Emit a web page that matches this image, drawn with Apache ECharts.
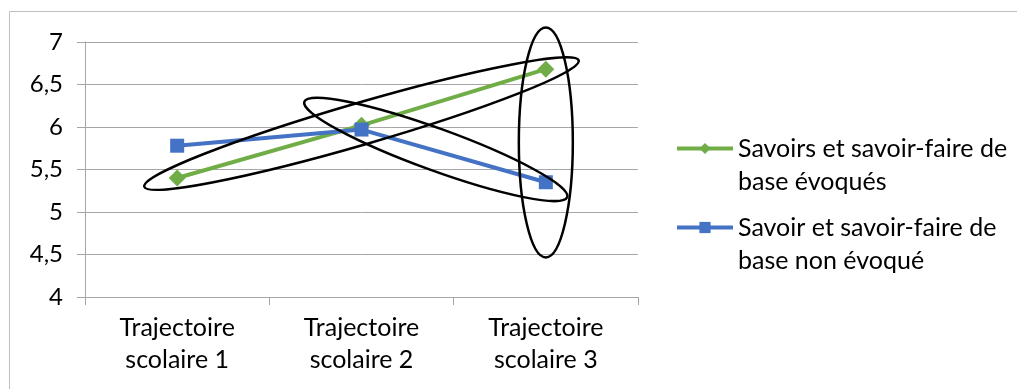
<!DOCTYPE html>
<html>
<head>
<meta charset="utf-8">
<script src="https://cdn.jsdelivr.net/npm/echarts@6/dist/echarts.min.js"></script>
<style>
  html, body { margin: 0; padding: 0; background: #fff; }
  #chart { width: 1017px; height: 389px; }
</style>
</head>
<body>
<div id="chart"></div>
<script>
var categories = ['Trajectoire\nscolaire 1', 'Trajectoire\nscolaire 2', 'Trajectoire\nscolaire 3'];
var seriesNames = ['Savoirs et savoir-faire de\nbase évoqués', 'Savoir et savoir-faire de\nbase non évoqué'];
var evoques = [5.40, 6.02, 6.68];
var nonEvoques = [5.78, 5.97, 5.35];

var font = 'Lato';
var gridColor = '#A6A6A6';
var lh = 33;

var legendText = {
    fontFamily: font,
    fontSize: 25,
    color: '#000',
    lineHeight: lh
};
// leading empty line keeps the icon level with the first text line
function legendLabel(name) { return '\n' + name; }

var myChart = echarts.init(document.getElementById('chart'));
myChart.setOption({
    animation: false,
    grid: { left: 85, right: 379, top: 42, bottom: 92 },
    legend: [
        {
            data: [seriesNames[0]], orient: 'vertical', left: 670, top: 94,
            itemWidth: 56, itemHeight: 14, itemGap: 0, textStyle: legendText,
            lineStyle: { width: 4 }, formatter: legendLabel
        },
        {
            data: [seriesNames[1]], orient: 'vertical', left: 670, top: 173,
            itemWidth: 56, itemHeight: 14, itemGap: 0, textStyle: legendText,
            lineStyle: { width: 4 }, formatter: legendLabel
        }
    ],
    xAxis: {
        type: 'category',
        data: categories,
        boundaryGap: true,
        axisLine: { lineStyle: { color: gridColor, width: 1 } },
        axisTick: { show: true, interval: 0, length: 8, lineStyle: { color: gridColor } },
        axisLabel: { fontFamily: font, fontSize: 25, color: '#000', lineHeight: 32, margin: 15, interval: 0 }
    },
    yAxis: {
        type: 'value',
        min: 4,
        max: 7,
        interval: 0.5,
        axisLine: { show: true, lineStyle: { color: gridColor, width: 1 } },
        axisTick: { show: true, length: 8, lineStyle: { color: gridColor } },
        splitLine: { lineStyle: { color: gridColor, width: 1 } },
        axisLabel: {
            fontFamily: font, fontSize: 24, color: '#000', margin: 22,
            formatter: function (v) { return String(v).replace('.', ','); }
        }
    },
    series: [
        {
            name: seriesNames[0],
            type: 'line',
            data: evoques,
            color: '#70AD47',
            symbol: 'diamond',
            symbolSize: 17,
            lineStyle: { width: 4 }
        },
        {
            name: seriesNames[1],
            type: 'line',
            data: nonEvoques,
            color: '#4472C4',
            symbol: 'rect',
            symbolSize: 14,
            lineStyle: { width: 4 },
            z: 3
        }
    ]
});

// hand-drawn ellipses placed relative to the data points
function px(s, i) {
    return myChart.convertToPixel({ seriesIndex: s }, [i, s === 0 ? evoques[i] : nonEvoques[i]]);
}
function ellipseAround(a, b, along, extra, ry, turn) {
    var dx = b[0] - a[0], dy = b[1] - a[1];
    var len = Math.sqrt(dx * dx + dy * dy);
    var ang = Math.atan2(dy, dx) + turn;
    var cx = (a[0] + b[0]) / 2 + Math.cos(ang) * along;
    var cy = (a[1] + b[1]) / 2 + Math.sin(ang) * along;
    return {
        type: 'ellipse',
        x: cx, y: cy,
        rotation: -ang,
        shape: { cx: 0, cy: 0, rx: len / 2 + extra, ry: ry },
        style: { fill: null, stroke: '#000', lineWidth: 2.5 },
        z: 10
    };
}

var g0 = px(0, 0), g2 = px(0, 2), b1 = px(1, 1), b2 = px(1, 2);
var ellipses = [
    ellipseAround(g0, g2, 0, 34, 21, 0.004),
    ellipseAround(b1, b2, -19, 44, 21, 0.07),
    {
        type: 'ellipse',
        x: g2[0], y: (g2[1] + b1[1]) / 2 + 43,
        shape: { cx: 0, cy: 0, rx: 27, ry: 115 },
        style: { fill: null, stroke: '#000', lineWidth: 2.5 },
        z: 10
    },
    {
        type: 'rect',
        shape: { x: 9.5, y: 11.5, width: 1100, height: 500 },
        style: { fill: null, stroke: '#BFBFBF', lineWidth: 1 },
        silent: true
    }
];
myChart.setOption({ graphic: ellipses });
</script>
</body>
</html>
